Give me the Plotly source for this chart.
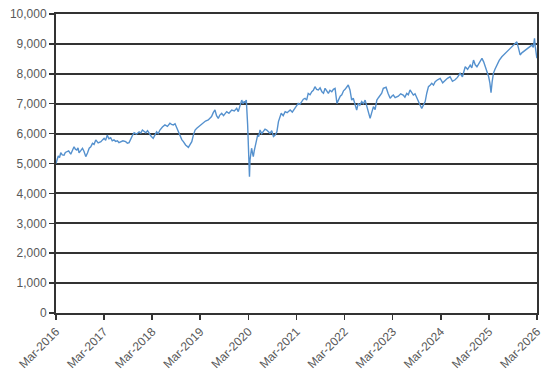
import plotly.graph_objects as go

dates = [
    "2016-03-01", "2016-03-10", "2016-03-18", "2016-03-28", "2016-04-06", "2016-04-18",
    "2016-05-01", "2016-05-11", "2016-05-21", "2016-06-05", "2016-06-21", "2016-07-03",
    "2016-07-16", "2016-07-26", "2016-08-06", "2016-08-15", "2016-08-23", "2016-09-05",
    "2016-09-18", "2016-09-30", "2016-10-13", "2016-10-26", "2016-11-08", "2016-11-20",
    "2016-12-03", "2016-12-15", "2016-12-28", "2017-01-15", "2017-02-05", "2017-02-17",
    "2017-03-01", "2017-03-13", "2017-03-25", "2017-04-07", "2017-04-20", "2017-05-02",
    "2017-05-15", "2017-05-28", "2017-06-10", "2017-06-22", "2017-07-05", "2017-07-22",
    "2017-08-12", "2017-08-25", "2017-09-07", "2017-09-25", "2017-10-05", "2017-10-15",
    "2017-11-02", "2017-11-22", "2017-12-05", "2017-12-17", "2017-12-30", "2018-01-12",
    "2018-01-25", "2018-02-07", "2018-02-20", "2018-03-09", "2018-03-22", "2018-04-04",
    "2018-04-16", "2018-04-29", "2018-05-18", "2018-06-06", "2018-06-25", "2018-07-14",
    "2018-07-26", "2018-08-09", "2018-08-22", "2018-09-04", "2018-09-16", "2018-09-29",
    "2018-10-12", "2018-10-24", "2018-11-10", "2018-12-01", "2018-12-14", "2018-12-27",
    "2019-01-08", "2019-01-21", "2019-02-03", "2019-02-16", "2019-03-05", "2019-03-23",
    "2019-04-10", "2019-05-01", "2019-05-13", "2019-05-26", "2019-06-08", "2019-06-21",
    "2019-07-03", "2019-07-16", "2019-07-28", "2019-08-11", "2019-08-25", "2019-09-18",
    "2019-10-05", "2019-10-26", "2019-11-15", "2019-12-03", "2019-12-15", "2019-12-28",
    "2020-01-10", "2020-01-20", "2020-01-28", "2020-02-05", "2020-02-14", "2020-02-24",
    "2020-03-02", "2020-03-09", "2020-03-13", "2020-03-19", "2020-03-25", "2020-04-01",
    "2020-04-07", "2020-04-14", "2020-04-20", "2020-04-30", "2020-05-10", "2020-05-18",
    "2020-05-28", "2020-06-10", "2020-06-22", "2020-07-05", "2020-07-18", "2020-07-30",
    "2020-08-12", "2020-08-25", "2020-09-07", "2020-09-20", "2020-10-03", "2020-10-15",
    "2020-10-25", "2020-11-05", "2020-11-20", "2020-12-05", "2020-12-20", "2021-01-12",
    "2021-01-28", "2021-02-19", "2021-03-01", "2021-03-14", "2021-03-27", "2021-04-10",
    "2021-04-22", "2021-05-05", "2021-05-17", "2021-05-29", "2021-06-12", "2021-06-25",
    "2021-07-07", "2021-07-19", "2021-08-01", "2021-08-14", "2021-08-27", "2021-09-10",
    "2021-09-22", "2021-10-04", "2021-10-16", "2021-10-29", "2021-11-10", "2021-11-24",
    "2021-12-06", "2021-12-19", "2022-01-02", "2022-01-14", "2022-01-27", "2022-02-08",
    "2022-02-21", "2022-03-05", "2022-03-17", "2022-03-29", "2022-04-11", "2022-04-24",
    "2022-05-06", "2022-05-18", "2022-06-01", "2022-06-13", "2022-06-25", "2022-07-09",
    "2022-07-22", "2022-08-04", "2022-08-16", "2022-08-29", "2022-09-11", "2022-09-23",
    "2022-10-06", "2022-10-19", "2022-11-01", "2022-11-13", "2022-11-26", "2022-12-08",
    "2022-12-20", "2023-01-10", "2023-01-25", "2023-02-10", "2023-02-22", "2023-03-06",
    "2023-03-20", "2023-04-13", "2023-05-01", "2023-05-20", "2023-06-02", "2023-06-16",
    "2023-06-28", "2023-07-11", "2023-07-23", "2023-08-05", "2023-08-18", "2023-08-31",
    "2023-09-12", "2023-09-25", "2023-10-08", "2023-10-20", "2023-11-03", "2023-11-15",
    "2023-11-28", "2023-12-10", "2023-12-23", "2024-01-05", "2024-01-18", "2024-02-05",
    "2024-02-25", "2024-03-15", "2024-04-03", "2024-04-20", "2024-05-10", "2024-05-28",
    "2024-06-17", "2024-07-05", "2024-07-25", "2024-08-12", "2024-09-02", "2024-09-20",
    "2024-10-10", "2024-10-22", "2024-11-04", "2024-11-17", "2024-11-30", "2024-12-18",
    "2025-01-07", "2025-01-20", "2025-02-02", "2025-02-14", "2025-02-27", "2025-03-08",
    "2025-03-17", "2025-03-26", "2025-04-04", "2025-04-16", "2025-04-29", "2025-05-18",
    "2025-06-07", "2025-06-25", "2025-07-14", "2025-08-02", "2025-08-22", "2025-09-10",
    "2025-09-29", "2025-10-12", "2025-10-24", "2025-11-06", "2025-11-19", "2025-12-08",
    "2025-12-26", "2026-01-08", "2026-01-21", "2026-02-01", "2026-02-10", "2026-02-16",
    "2026-02-21", "2026-02-28",
]

values = [
    5000, 5120, 5250, 5200, 5360, 5290,
    5280, 5370, 5390, 5420, 5310, 5420,
    5560, 5480, 5450, 5520, 5360, 5430,
    5510, 5400, 5230, 5350, 5510, 5560,
    5675, 5640, 5790, 5690, 5730, 5790,
    5840, 5780, 5950, 5830, 5860, 5760,
    5790, 5740, 5760, 5700, 5730, 5760,
    5730, 5680, 5700, 5900, 5960, 6030,
    5980, 6060, 6020, 6120, 6060, 6030,
    6100, 5990, 5920, 5840, 5960, 6060,
    6000, 6120, 6220, 6290, 6240, 6345,
    6310, 6290, 6330, 6180, 6050, 5900,
    5800, 5730, 5620, 5540, 5620, 5730,
    5950, 6120, 6180, 6230, 6290, 6345,
    6420, 6455, 6530, 6570, 6700, 6790,
    6600, 6510, 6620, 6680, 6600, 6735,
    6680, 6790, 6760, 6845, 6735, 6900,
    7120, 7000, 7070, 7050, 7120, 6300,
    5400, 4560, 5120, 5300, 5510, 5350,
    5230, 5420, 5560, 5780, 5950, 5900,
    6120, 6000, 6060, 6150, 6120, 6050,
    6010, 6100, 5900, 5950, 6060, 6400,
    6550, 6680, 6600, 6735, 6700, 6790,
    6720, 6845, 6900, 7010, 6980, 7070,
    7150, 7180, 7120, 7345, 7300, 7400,
    7450, 7570, 7480, 7460, 7530, 7400,
    7350, 7515, 7420, 7345, 7450, 7400,
    7480, 7515, 7010, 7150, 7250, 7300,
    7430, 7480, 7570, 7625, 7460, 7120,
    7180, 6950, 6790, 7010, 6950, 7070,
    7000, 7120, 6950, 6735, 6510, 6700,
    6900, 6800, 7120, 7200, 7290, 7350,
    7515, 7550, 7350, 7180, 7250, 7290,
    7200, 7250, 7330, 7290, 7220, 7345,
    7300, 7460, 7380, 7290, 7330, 7180,
    7100, 6955, 6845, 6950, 7070, 7350,
    7570, 7620, 7680, 7620, 7735, 7800,
    7845, 7700, 7790, 7850, 7900, 7750,
    7800, 7880, 8015, 7900, 8235, 8150,
    8290, 8200, 8460, 8300, 8235, 8350,
    8515, 8400, 8235, 8100, 7900, 7700,
    7370, 7750, 8015, 8150, 8290, 8450,
    8570, 8650, 8740, 8800, 8900, 8980,
    9070, 8850, 8630, 8700, 8740, 8800,
    8850, 8900, 8960, 8880, 9190, 8900,
    8690, 8520,
]

x_range = ["2016-03-01", "2026-03-01"]
tick_dates = ["2016-03-01", "2017-03-01", "2018-03-01", "2019-03-01", "2020-03-01", "2021-03-01",
              "2022-03-01", "2023-03-01", "2024-03-01", "2025-03-01", "2026-03-01"]
tick_labels = ["Mar-2016", "Mar-2017", "Mar-2018", "Mar-2019", "Mar-2020", "Mar-2021",
               "Mar-2022", "Mar-2023", "Mar-2024", "Mar-2025", "Mar-2026"]

fig = go.Figure()
fig.add_trace(go.Scatter(
    x=dates, y=values, mode="lines",
    line=dict(color="#5591CE", width=1.4),
    showlegend=False, hoverinfo="skip",
))

font_color = "#595959"
axis_color = "#333333"
fig.update_layout(
    width=550, height=375,
    margin=dict(l=56, r=13, t=14, b=62),
    paper_bgcolor="white", plot_bgcolor="white",
    font=dict(family="Liberation Sans, Arial, sans-serif", size=12, color=font_color),
)
fig.update_xaxes(
    type="date", range=x_range, automargin=False,
    tickmode="array", tickvals=tick_dates, ticktext=tick_labels,
    tickangle=-45, tickfont=dict(size=12, color=font_color),
    showgrid=False, zeroline=False,
    showline=True, linecolor=axis_color, linewidth=2, mirror=True,
    ticks="outside", ticklen=5, tickcolor=axis_color, tickwidth=1.5,
)
fig.update_yaxes(
    range=[0, 10000], dtick=1000, tickformat=",", automargin=False,
    tickfont=dict(size=12, color=font_color),
    showgrid=True, gridcolor=axis_color, gridwidth=2,
    zeroline=False,
    showline=True, linecolor=axis_color, linewidth=2, mirror=True,
    ticks="outside", ticklen=5, tickcolor=axis_color, tickwidth=1.5,
)

# remove the browser's default 8px body margin so the figure fills the window
fig.write_html(
    "out.html",
    config={"displayModeBar": False, "staticPlot": True},
    post_script="document.body.style.margin='0px';",
)
